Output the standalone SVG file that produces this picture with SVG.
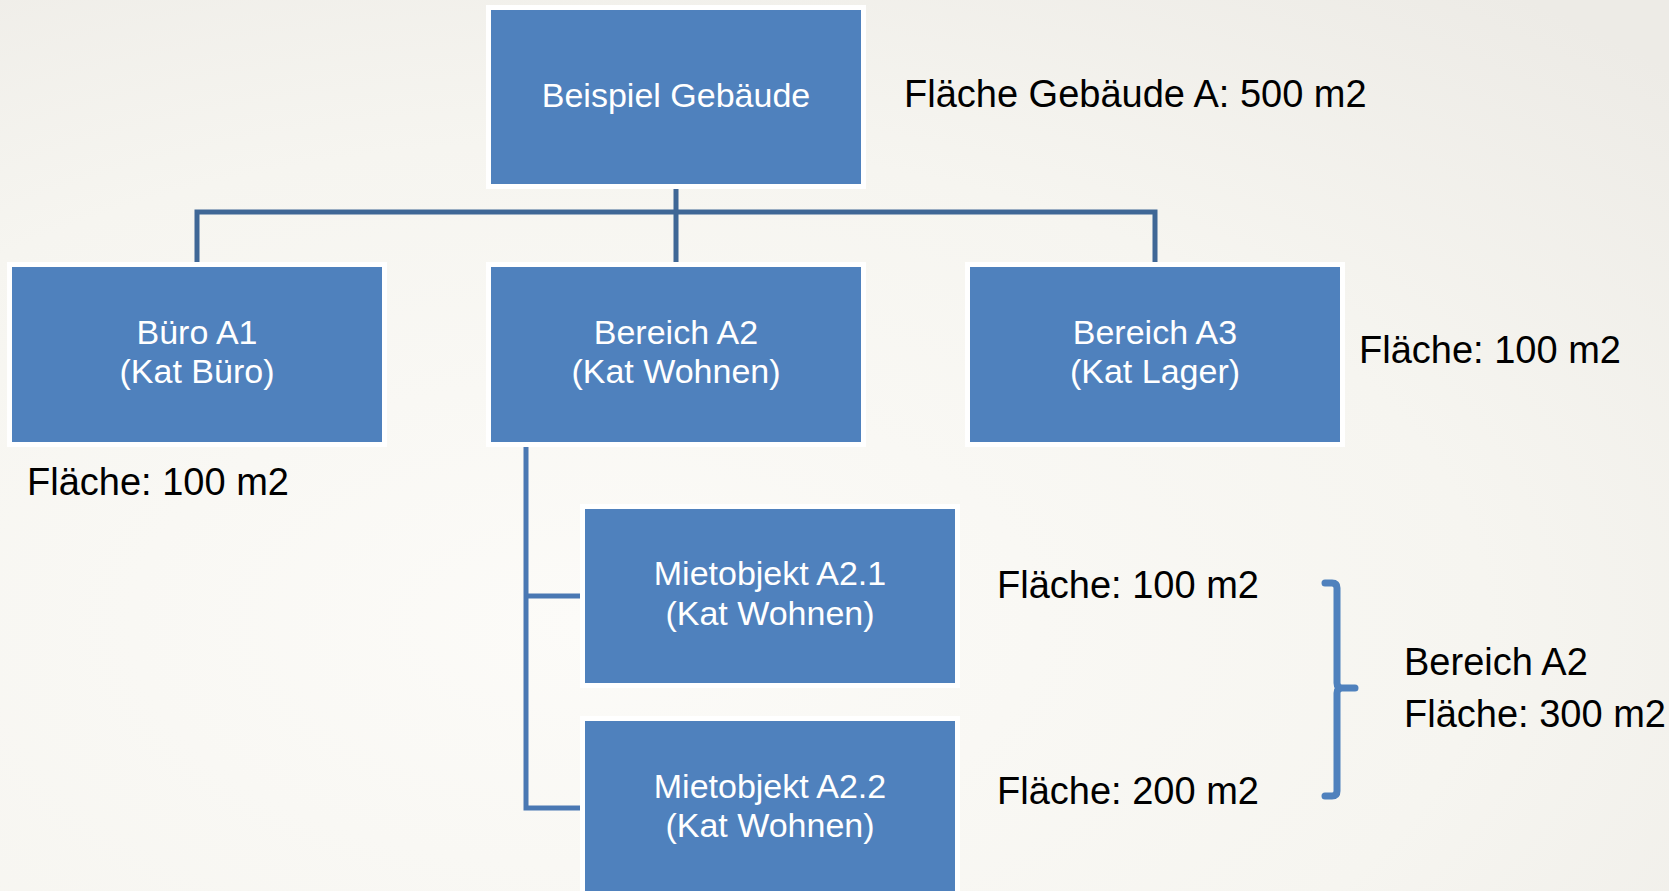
<svg xmlns="http://www.w3.org/2000/svg" width="1669" height="891" viewBox="0 0 1669 891">
<defs>
<radialGradient id="bg" cx="0.35" cy="0.7" r="0.9">
<stop offset="0" stop-color="#fcfbf8"/>
<stop offset="0.6" stop-color="#f6f5f0"/>
<stop offset="1" stop-color="#edebe6"/>
</radialGradient>
<style>
.box{fill:#4f81bd;stroke:#ffffff;stroke-width:5}
.lbl{font-family:"Liberation Sans",Arial,sans-serif;font-size:34px;fill:#ffffff;text-anchor:middle}
.note{font-family:"Liberation Sans",Arial,sans-serif;font-size:38px;fill:#000000}
.conn{fill:none;stroke:#3f6796;stroke-width:5;stroke-linejoin:miter}
.conn2{fill:none;stroke:#4a78b3;stroke-width:5;stroke-linejoin:miter}
.brace{fill:none;stroke:#4f81bd;stroke-width:7;stroke-linejoin:round;stroke-linecap:round}
</style>
</defs>
<rect x="0" y="0" width="1669" height="891" fill="url(#bg)"/>
<g id="connectors">
<path class="conn" d="M197,264 V212 H1155 V264 M676,189 V264"/>
<path class="conn2" d="M526,446 V808 H580 M526,596 H580"/>
</g>
<g id="node-gebaeude">
<rect class="box" x="488.5" y="7.5" width="375" height="179"/>
<text class="lbl" x="676" y="107">Beispiel Gebäude</text>
</g>
<g id="node-buero-a1">
<rect class="box" x="9.5" y="264.5" width="375" height="180"/>
<text class="lbl" x="197" y="344">Büro A1</text>
<text class="lbl" x="197" y="383">(Kat Büro)</text>
</g>
<g id="node-bereich-a2">
<rect class="box" x="488.5" y="264.5" width="375" height="180"/>
<text class="lbl" x="676" y="344">Bereich A2</text>
<text class="lbl" x="676" y="383">(Kat Wohnen)</text>
</g>
<g id="node-bereich-a3">
<rect class="box" x="967.5" y="264.5" width="375" height="180"/>
<text class="lbl" x="1155" y="344">Bereich A3</text>
<text class="lbl" x="1155" y="383">(Kat Lager)</text>
</g>
<g id="node-mietobjekt-a21">
<rect class="box" x="582.5" y="506.5" width="375" height="179"/>
<text class="lbl" x="770" y="585">Mietobjekt A2.1</text>
<text class="lbl" x="770" y="625">(Kat Wohnen)</text>
</g>
<g id="node-mietobjekt-a22">
<rect class="box" x="582.5" y="718.5" width="375" height="190"/>
<text class="lbl" x="770" y="798">Mietobjekt A2.2</text>
<text class="lbl" x="770" y="837">(Kat Wohnen)</text>
</g>
<g id="notes">
<text class="note" x="904" y="107">Fläche Gebäude A: 500 m2</text>
<text class="note" x="27" y="495">Fläche: 100 m2</text>
<text class="note" x="1359" y="363">Fläche: 100 m2</text>
<text class="note" x="997" y="598">Fläche: 100 m2</text>
<text class="note" x="997" y="804">Fläche: 200 m2</text>
<text class="note" x="1404" y="675">Bereich A2</text>
<text class="note" x="1404" y="727">Fläche: 300 m2</text>
</g>
<g id="brace">
<path class="brace" d="M1325,583 H1332 Q1337,583 1337,588 V683 Q1337,688 1342,688 H1355 M1342,688 Q1337,688 1337,693 V791 Q1337,796 1332,796 H1325"/>
</g>
</svg>
